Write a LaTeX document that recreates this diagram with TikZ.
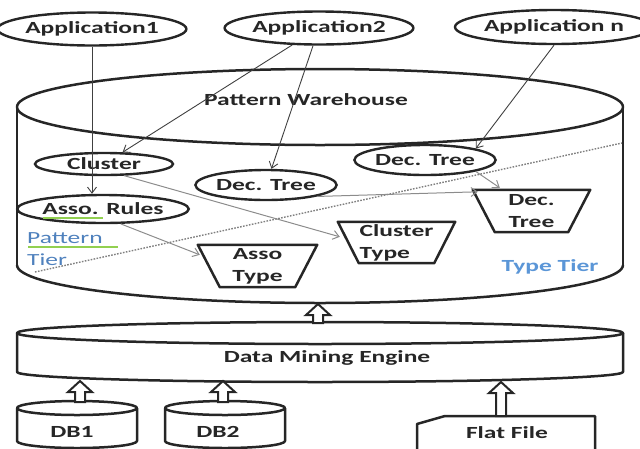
\documentclass[tikz,border=0pt]{standalone}
\usepackage{fontspec}
\setmainfont{Carlito}[FakeStretch=1.5]
\usetikzlibrary{shapes.geometric,arrows.meta,calc}
\definecolor{tierblue}{RGB}{79,129,189}
\definecolor{typeblue}{RGB}{91,150,215}
\definecolor{uline}{RGB}{146,208,80}
\newcommand\uparr[3]{%
  \draw[blk] (#1-5,#2) -- (#1-5,#3+11) -- (#1-12,#3+11) -- (#1,#3) -- (#1+12,#3+11) -- (#1+5,#3+11) -- (#1+5,#2) -- cycle;}
\newcommand\trapz[2]{%
  \draw[outline] (#1.north west) -- (#1.north east) -- ($(#1.south east)+(-#2,0)$) -- ($(#1.south west)+(#2,0)$) -- cycle;}
\begin{document}
\begin{tikzpicture}[x=1pt,y=-1pt,
  every node/.style={font=\fontsize{17}{22}\selectfont\bfseries, text=black!85},
  outline/.style={line width=2.5pt, draw=black!85, line join=round},
  blk/.style={line width=2pt, draw=black!85, fill=white},
  oval/.style={ellipse, draw=black!85, line width=2.4pt, inner sep=0pt},
  trapbox/.style={rectangle, inner sep=0pt, align=center},
  conn/.style={line width=0.9pt, draw=black!75, -{Straight Barb[length=6pt,width=9pt]}},
  connl/.style={line width=1pt, draw=black!45, -{Straight Barb[length=6pt,width=9pt]}},
  tier/.style={font=\fontsize{17}{22}\selectfont, text=tierblue}]
\path[use as bounding box, clip] (0,0) rectangle (640,448);

% Pattern Warehouse cylinder
\draw[outline] (17,265) -- (17,107) (623,107) -- (623,265);
\draw[outline] (17,265) arc[start angle=180, end angle=360, x radius=303pt, y radius=38pt];
\draw[outline] (320,107) ellipse [x radius=303pt, y radius=38pt];
\node (pw) at (306,100) {Pattern Warehouse};

% Data Mining Engine cylinder
\draw[outline] (17,333) -- (17,372) arc[start angle=180, end angle=360, x radius=303pt, y radius=10pt] -- (623,333);
\draw[outline] (320,333) ellipse [x radius=303pt, y radius=11pt];
\node (dme) at (327,358) {Data Mining Engine};

% DB1, DB2
\draw[outline] (17,408) -- (17,441) arc[start angle=180, end angle=360, x radius=60pt, y radius=7pt] -- (137,408);
\draw[outline] (77,408) ellipse [x radius=60pt, y radius=7pt];
\node (db1) at (72,432) {DB1};
\draw[outline] (165,408) -- (165,441) arc[start angle=180, end angle=360, x radius=60pt, y radius=7pt] -- (285,408);
\draw[outline] (225,408) ellipse [x radius=60pt, y radius=7pt];
\node (db2) at (218,432) {DB2};

% Flat file
\draw[outline] (417,424) -- (445,416) -- (595,416) -- (595,460) -- (417,460) -- cycle;
\node (ff) at (507,433) {Flat File};

% block arrows
\coordinate (whb) at (318,304);
\coordinate (dmt) at (318,323);
\uparr{318}{323}{304}
\uparr{80}{402}{381}
\uparr{223}{402}{381}
\uparr{501}{416}{382}

% dotted tier separator
\coordinate (d1) at (35,272);
\coordinate (d2) at (622,143);
\draw[black!50, line width=1.4pt, dash pattern=on 1.6pt off 1.4pt] (d1) -- (d2);

% applications
\node[oval, minimum width=167pt, minimum height=33pt] (app1) at (92,29) {Application1};
\node[oval, minimum width=165pt, minimum height=33pt] (app2) at (319,28) {Application2};
\node[oval, minimum width=168pt, minimum height=34pt] (appn) at (554,27) {Application n};

% pattern tier
\node[oval, minimum width=138pt, minimum height=22pt] (cluster) at (104,164) {Cluster};
\node[oval, minimum width=140pt, minimum height=28pt] (asso) at (103,209) {Asso. Rules};
\node[oval, minimum width=138pt, minimum height=30pt] (midtree) at (266,185) {Dec. Tree};
\node[oval, minimum width=135pt, minimum height=30pt] (righttree) at (425,160) {Dec. Tree};

% type tier trapezoids
\node[trapbox, minimum width=117pt, minimum height=42pt] (dectrap) at (531.5,211) {Dec.\\Tree};
\trapz{dectrap}{22}
\node[trapbox, minimum width=117pt, minimum height=41pt, align=left] (clustype) at (396.5,242.5) {Cluster\\Type};
\trapz{clustype}{21}
\node[trapbox, minimum width=119pt, minimum height=42pt] (assotype) at (257.5,266) {Asso\\Type};
\trapz{assotype}{22}

% tier labels
\node[tier, anchor=west, inner sep=0pt] (ptier1) at (27,238) {Pattern};
\node[tier, anchor=west, inner sep=0pt] (ptier2) at (27,260) {Tier};
\node[tier, text=typeblue, font=\fontsize{17}{22}\selectfont\bfseries] (ttier) at (550,267) {Type Tier};
\draw[uline, line width=1.2pt] (28,247) -- (118,247);
\draw[uline, line width=1.2pt] (43,218) -- (103,218);

% connectors
\draw[conn] (app1.south) -- (app1.south |- asso.north);
\draw[conn] (app2) -- (cluster);
\draw[conn] (app2) -- (midtree);
\draw[conn] (appn.south) -- (righttree.north east);
\draw[connl] (righttree.south east) -- ($(dectrap.north west)+(27,-2)$);
\draw[connl] (midtree.south east) -- ($(dectrap.north west)+(5,2)$);
\draw[connl] (cluster.330) -- ($(clustype.north west)+(2,15)$);
\draw[connl] (asso.320) -- ($(assotype.north west)+(2,10)$);
\end{tikzpicture}
\end{document}
